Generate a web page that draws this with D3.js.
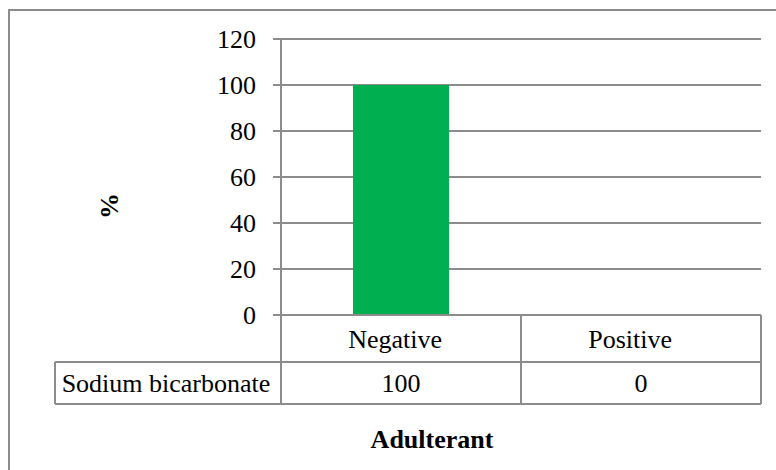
<!DOCTYPE html>
<html>
<head>
<meta charset="utf-8">
<script src="https://cdn.jsdelivr.net/npm/d3@7"></script>
<style>
  html, body { margin: 0; padding: 0; background: #fff; overflow: hidden; }
  svg { display: block; }
  svg text { font-family: "Liberation Serif", "Times New Roman", Times, "DejaVu Serif", serif; fill: #000; }
</style>
</head>
<body>
<svg id="chart" width="776" height="470"></svg>
<script>
// Result categories and the share of samples in each (%)
const categories = ["Negative", "Positive"];
const seriesName = "Sodium bicarbonate";
const values = [100, 0];
const yTicks = [0, 20, 40, 60, 80, 100, 120];
const yLabel = "%";
const xTitle = "Adulterant";

const svg = d3.select("#chart");
const lineColor = "#8c8c8c";
const barColor = "#00b050";
const fontSize = 26;
const serif = "'Liberation Serif', 'Times New Roman', Times, 'DejaVu Serif', serif";

// outer chart-area frame (runs off the right and bottom edges)
svg.append("rect")
  .attr("x", 9).attr("y", 10)
  .attr("width", 900).attr("height", 600)
  .attr("fill", "none")
  .attr("stroke", lineColor).attr("stroke-width", 2);

const plot = { left: 281, right: 761, top: 39, bottom: 315 };

const x = d3.scaleBand().domain(categories).range([plot.left, plot.right]).padding(0);
const y = d3.scaleLinear().domain([0, 120]).range([plot.bottom, plot.top]);

// horizontal gridlines with small outward ticks
svg.append("g").selectAll("line").data(yTicks).join("line")
  .attr("x1", plot.left - 8).attr("x2", plot.right)
  .attr("y1", d => y(d)).attr("y2", d => y(d))
  .attr("stroke", lineColor).attr("stroke-width", 2);

// value axis line
svg.append("line")
  .attr("x1", plot.left).attr("x2", plot.left)
  .attr("y1", y(120)).attr("y2", y(0))
  .attr("stroke", lineColor).attr("stroke-width", 2);

const label = (sel) => sel.attr("font-family", serif).attr("font-size", fontSize);

// value tick labels
svg.append("g").selectAll("text").data(yTicks).join("text")
  .call(label)
  .attr("x", 256).attr("y", d => y(d))
  .attr("dy", "0.34em")
  .attr("text-anchor", "end")
  .text(d => d);

// bars
const barW = x.bandwidth() * 0.4;
svg.append("g").selectAll("rect").data(categories).join("rect")
  .attr("x", d => x(d) + (x.bandwidth() - barW) / 2)
  .attr("width", barW)
  .attr("y", (d, i) => y(values[i]))
  .attr("height", (d, i) => y(0) - y(values[i]))
  .attr("fill", barColor);

// data table below the plot
const row1 = { top: 315, bottom: 362 };
const row2 = { top: 362, bottom: 404 };
const tableLeft = 55;
const table = svg.append("g").attr("stroke", lineColor).attr("stroke-width", 2).attr("fill", "none");
table.append("line").attr("x1", plot.left).attr("x2", plot.right).attr("y1", row1.top).attr("y2", row1.top);
table.append("line").attr("x1", tableLeft).attr("x2", plot.right).attr("y1", row2.top).attr("y2", row2.top);
table.append("line").attr("x1", tableLeft).attr("x2", plot.right).attr("y1", row2.bottom).attr("y2", row2.bottom);
table.append("line").attr("x1", tableLeft).attr("x2", tableLeft).attr("y1", row2.top).attr("y2", row2.bottom);
const colEdges = [plot.left].concat(categories.map(c => x(c) + x.bandwidth()));
table.selectAll("line.col").data(colEdges).join("line").attr("class", "col")
  .attr("x1", d => d).attr("x2", d => d)
  .attr("y1", row1.top).attr("y2", row2.bottom);

// category labels (set from a fixed inset within each column)
svg.append("g").selectAll("text").data(categories).join("text")
  .call(label)
  .attr("x", d => x(d) + x.bandwidth() * 0.28)
  .attr("y", 348)
  .attr("text-anchor", "start")
  .text(d => d);

// series name and its values
svg.append("text")
  .call(label)
  .attr("x", (tableLeft + plot.left) / 2 - 2)
  .attr("y", 392)
  .attr("text-anchor", "middle")
  .text(seriesName);
svg.append("g").selectAll("text").data(categories).join("text")
  .call(label)
  .attr("x", d => x(d) + x.bandwidth() / 2)
  .attr("y", 392)
  .attr("text-anchor", "middle")
  .text((d, i) => values[i]);

// axis titles
svg.append("text")
  .call(label)
  .attr("transform", "translate(109,206) rotate(-90)")
  .attr("dy", "0.34em")
  .attr("text-anchor", "middle")
  .attr("font-weight", "bold")
  .text(yLabel);
svg.append("text")
  .call(label)
  .attr("x", 432).attr("y", 448)
  .attr("text-anchor", "middle")
  .attr("font-weight", "bold")
  .text(xTitle);
</script>
</body>
</html>
